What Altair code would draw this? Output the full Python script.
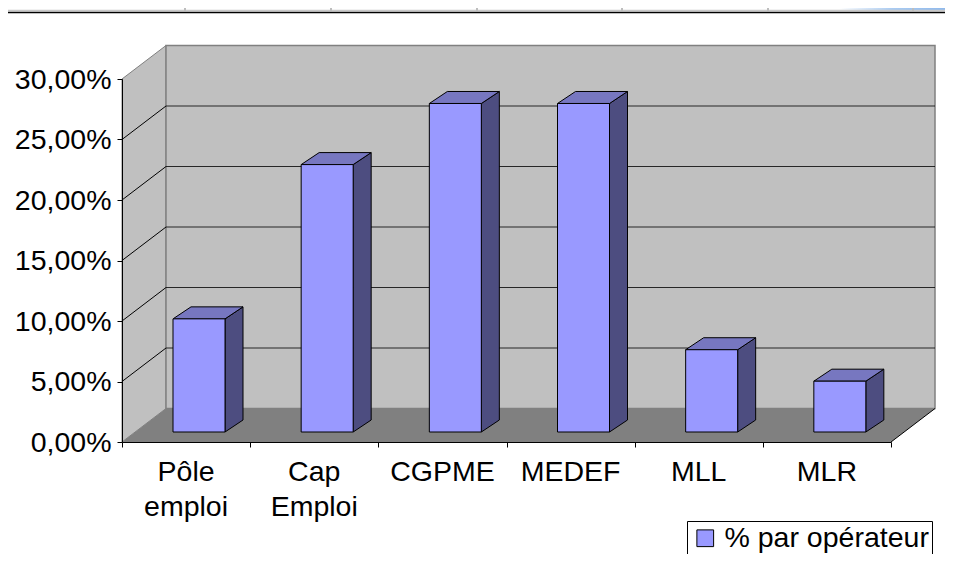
import altair as alt
import pandas as pd

categories = ["Pôle\nemploi", "Cap\nEmploi", "CGPME", "MEDEF", "MLL", "MLR"]
values = [9.35, 22.1, 27.15, 27.15, 6.8, 4.2]
series_name = "% par opérateur"
grid_values = [5, 10, 15, 20, 25]

# plot geometry (plot area = front axis rectangle)
W, H = 769, 363
LEFT, TOP = 114, 71
SVG_W, SVG_H = 937, 546
PX_X = 6 / W
PX_Y = 30 / H
WALL_DX, WALL_DY = 44 * PX_X, 33.5 * PX_Y
BAR_OFF_X, BAR_OFF_Y = 13 * PX_X, 10 * PX_Y
BAR_W = 52 * PX_X
SIDE_DX, SIDE_DY = 18 * PX_X, 12 * PX_Y
BAR_LEFT_GAP = 51 * PX_X

FONT = "Liberation Sans"
WALL, EDGE, FLOOR = "#C0C0C0", "#808080", "#808080"
FRONT, TOPC, SIDE = "#9999FF", "#7777C0", "#4D4D80"

xs = alt.Scale(domain=[0, 6], nice=False, zero=False)
ys = alt.Scale(domain=[0, 30], nice=False, zero=False)
X = lambda f="x", **k: alt.X(f"{f}:Q", scale=xs, title=None, **k)
Y = lambda f="y", **k: alt.Y(f"{f}:Q", scale=ys, title=None, **k)

y_axis = alt.Axis(values=[0, 5, 10, 15, 20, 25, 30], labelExpr="replace(format(datum.value,'.2f'),'.',',')+'%'",
                  labelFont=FONT, labelFontSize=28.5, labelColor="#000", labelPadding=6, tickColor="#000",
                  tickSize=5, domainColor="#000", grid=False, zindex=1, labelFlush=False, labelOverlap=False)
x_axis = alt.Axis(values=[0, 1, 2, 3, 4, 5, 6], labels=False, tickColor="#000", tickSize=5,
                  domainColor="#000", grid=False, zindex=1)

# walls / floor
left_wall = pd.DataFrame({"x": [0, WALL_DX], "y": [0, WALL_DY], "y2": [30, 30 + WALL_DY]})
back_wall = pd.DataFrame({"x": [WALL_DX], "x2": [6 + WALL_DX], "y": [WALL_DY], "y2": [30 + WALL_DY]})
floor = pd.DataFrame({"y": [0, WALL_DY], "x": [0, WALL_DX], "x2": [6, 6 + WALL_DX]})

axes_layer = alt.Chart(left_wall).mark_area(orient="vertical", fill=WALL, stroke=EDGE, strokeWidth=1).encode(
    x=X(axis=x_axis), y=Y(axis=y_axis), y2="y2:Q")
back_layer = alt.Chart(back_wall).mark_rect(fill=WALL, stroke=EDGE, strokeWidth=1.5).encode(
    x=X(), x2="x2:Q", y=Y(), y2="y2:Q")
floor_layer = alt.Chart(floor).mark_area(orient="horizontal", fill=FLOOR).encode(
    y=Y(), x=X(), x2="x2:Q")

grid_df = pd.DataFrame({"v": grid_values})
grid_df["y"] = grid_df.v + WALL_DY
grid_df["x"] = WALL_DX
grid_df["x2"] = 6 + WALL_DX
grid_df["x0"] = 0.0
grid_back = alt.Chart(grid_df).mark_rule(color="#000", strokeWidth=1, opacity=0.8).encode(
    x=X(), x2="x2:Q", y=Y())
grid_diag = alt.Chart(grid_df).mark_rule(color="#000", strokeWidth=1).encode(
    x=X("x0"), x2="x:Q", y=Y("v"), y2="y:Q")
edge_df = pd.DataFrame({"x": [6], "x2": [6 + WALL_DX], "y": [0], "y2": [WALL_DY]})
edge_layer = alt.Chart(edge_df).mark_rule(color="#000", strokeWidth=1).encode(
    x=X(), x2="x2:Q", y=Y(), y2="y2:Q")

# bars
front_rows, side_rows, top_rows = [], [], []
for i, v in enumerate(values):
    x0 = i + BAR_LEFT_GAP
    x1 = x0 + BAR_W
    yb = BAR_OFF_Y
    yt = BAR_OFF_Y + v
    front_rows.append({"x": x0, "x2": x1, "y": yb, "y2": yt, "s": series_name})
    side_rows += [{"id": i, "x": x1, "y": yb, "y2": yt},
                  {"id": i, "x": x1 + SIDE_DX, "y": yb + SIDE_DY, "y2": yt + SIDE_DY}]
    top_rows += [{"id": i, "y": yt, "x": x0, "x2": x1},
                 {"id": i, "y": yt + SIDE_DY, "x": x0 + SIDE_DX, "x2": x1 + SIDE_DX}]

side_layer = alt.Chart(pd.DataFrame(side_rows)).mark_area(orient="vertical", fill=SIDE, stroke="#000", strokeWidth=1).encode(
    x=X(), y=Y(), y2="y2:Q", detail="id:N")
top_layer = alt.Chart(pd.DataFrame(top_rows)).mark_area(orient="horizontal", fill=TOPC, stroke="#000", strokeWidth=1).encode(
    y=Y(), x=X(), x2="x2:Q", detail="id:N")
front_layer = alt.Chart(pd.DataFrame(front_rows)).mark_rect(stroke="#000", strokeWidth=1).encode(
    x=X(), x2="x2:Q", y=Y(), y2="y2:Q",
    fill=alt.Fill("s:N", scale=alt.Scale(range=[FRONT]), legend=alt.Legend(
        title=None, orient="none", legendX=565, legendY=442, fillColor="#FFF", strokeColor="#000",
        padding=3, labelFont=FONT, labelFontSize=28.5, labelColor="#000", symbolType="square", symbolSize=280,
        symbolStrokeColor="#000", symbolStrokeWidth=1, symbolOffset=1, labelOffset=5, rowPadding=0, labelLimit=400)))

# category labels
label_df = pd.DataFrame({"t": [c.split("\n") for c in categories], "x": [i + 0.5 for i in range(6)], "y": [0] * 6})
label_layer = alt.Chart(label_df).mark_text(font=FONT, fontSize=28.5, dy=39, baseline="alphabetic", lineHeight=35,
                                            color="#000", align="center").encode(x=X(), y=Y(), text="t")

# slide header remnants
header_ticks_px = [185, 331, 477, 622, 768, 913]
to_x = lambda p: (p - 8 - LEFT) * PX_X
to_y = lambda p: (TOP + H - (p - 8)) * PX_Y
head_line = pd.DataFrame({"x": [to_x(8)], "x2": [to_x(945)], "y": [to_y(12.5)]})
head_grey = pd.DataFrame({"x": [to_x(8)], "x2": [to_x(945)], "y": [to_y(10.5)]})
head_blue = pd.DataFrame({"x": [to_x(840)], "x2": [to_x(945)], "y": [to_y(8)], "y2": [to_y(10)]})
head_ticks = pd.DataFrame({"x": [to_x(p) for p in header_ticks_px], "y": to_y(8), "y2": to_y(11)})
h0 = alt.Chart(head_blue).mark_rect(fill=alt.LinearGradient(
    gradient="linear", x1=0, x2=1, y1=0, y2=0,
    stops=[alt.GradientStop(color="#FFFFFF", offset=0), alt.GradientStop(color="#A9CBF2", offset=0.5),
           alt.GradientStop(color="#8FB9EC", offset=1)])).encode(x=X(), x2="x2:Q", y=Y(), y2="y2:Q")
h1 = alt.Chart(head_grey).mark_rule(color="#C8C8C8", strokeWidth=1.5).encode(x=X(), x2="x2:Q", y=Y())
h2 = alt.Chart(head_line).mark_rule(color="#000", strokeWidth=1.5).encode(x=X(), x2="x2:Q", y=Y())
h3 = alt.Chart(head_ticks).mark_rule(color="#BDBDBD", strokeWidth=2).encode(x=X(), y=Y(), y2="y2:Q")

chart = alt.layer(
    axes_layer, back_layer, floor_layer, grid_back, grid_diag, edge_layer,
    side_layer, top_layer, front_layer, label_layer, h0, h1, h2, h3
).resolve_scale(x="shared", y="shared").properties(
    width=W, height=H,
    autosize=alt.AutoSizeParams(type="none"),
    padding={"left": LEFT, "top": TOP, "right": SVG_W - LEFT - W, "bottom": SVG_H - TOP - H},
    background="#FFFFFF",
).configure_view(stroke=None)

chart.save("out.html", embed_options={"renderer": "svg", "actions": False})
